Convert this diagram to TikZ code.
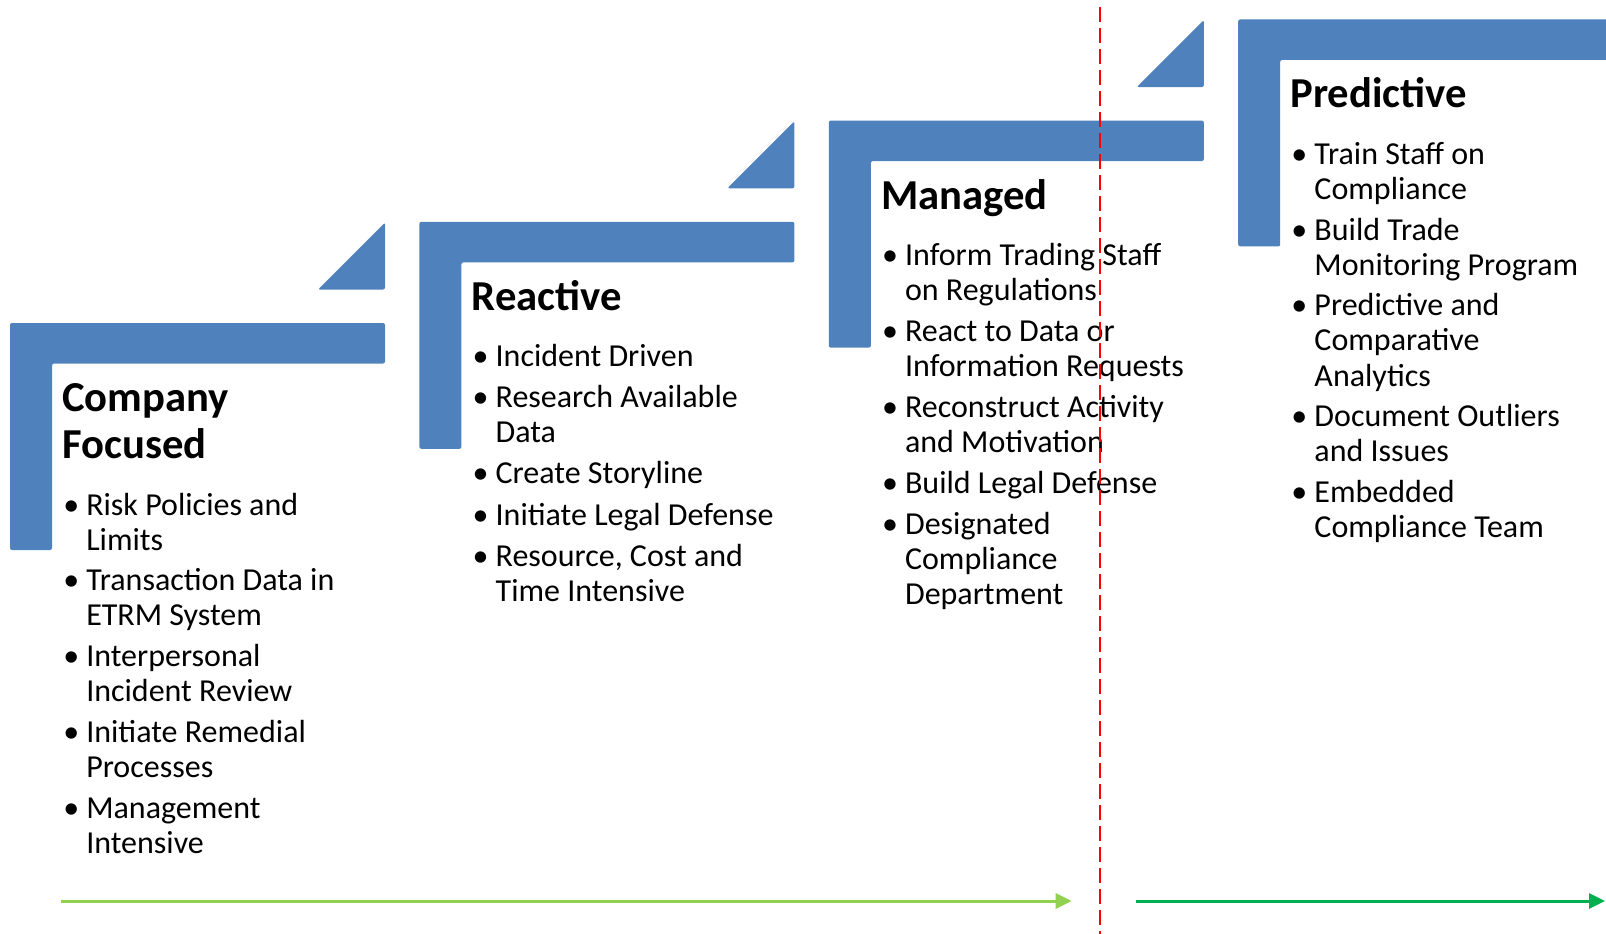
\documentclass[tikz,border=0pt]{standalone}
\usepackage{fontspec}
\setmainfont{Carlito}
\usetikzlibrary{arrows.meta}
\definecolor{stepblue}{HTML}{4F81BD}
\definecolor{lgreen}{HTML}{92D050}
\definecolor{dgreen}{HTML}{00B050}
\definecolor{dred}{HTML}{FF0000}
\tikzset{
  stepshape/.style={fill=stepblue,draw=none,rounded corners=1.5pt},
  ttl/.style={anchor=base west,inner sep=0pt,font=\fontsize{32}{35.5}\selectfont\bfseries},
  itm/.style={anchor=base west,inner sep=0pt,font=\fontsize{24}{26.3}\selectfont},
  bul/.style={anchor=base west,inner sep=0pt,font=\fontsize{24}{26.3}\selectfont},
  flow/.style={line width=2.25pt,-{Triangle[length=12pt,width=11.25pt]}},
  divider/.style={draw=dred,line width=1.5pt,dash pattern=on 11.25pt off 4.5pt}
}
\newcommand\lns[1]{\begin{tabular}[t]{@{}l@{}}#1\end{tabular}}
\newcommand\bitem[4]{%
  \node[bul] (#1b) at (#2-23,#3+1.5) {\textbullet};
  \node[itm] (#1) at (#2,#3+1.5) {\lns{#4}};
}
\newcommand\stepL[3]{% name, left, top
  \fill[stepshape] (#2,#3) -- (#2+375,#3) -- (#2+375,#3+40.5) -- (#2+42,#3+40.5)
     -- (#2+42,#3+227) -- (#2,#3+227) -- cycle;
}
\newcommand\stepT[2]{% right, bar top
  \fill[stepshape] (#1,#2-100.5) -- (#1,#2-33.5) -- (#1-67,#2-33.5) -- cycle;
}
\begin{document}
\begin{tikzpicture}[x=0.75pt,y=-0.75pt]
\clip (0,0) rectangle (1606,933);
\fill[white] (0,0) rectangle (1606,933);
% step shapes
\stepL{s1}{10}{323}
\stepL{s2}{419.4}{221.8}
\stepL{s3}{828.8}{120.6}
\stepL{s4}{1238.2}{19.4}
\stepT{385}{323}
\stepT{794.4}{221.8}
\stepT{1203.8}{120.6}
% titles
\node[ttl] (t1) at (62,411.5) {\lns{Company\\Focused}};
\node[ttl] (t2) at (471.4,310.3) {Reactive};
\node[ttl] (t3) at (880.8,209.1) {Managed};
\node[ttl] (t4) at (1290.2,107.9) {Predictive};
% column 1
\bitem{a1}{86}{513.5}{Risk Policies and\\Limits}
\bitem{a2}{86}{589.4}{Transaction Data in\\ETRM System}
\bitem{a3}{86}{665.3}{Interpersonal\\Incident Review}
\bitem{a4}{86}{741.2}{Initiate Remedial\\Processes}
\bitem{a5}{86}{817.1}{Management\\Intensive}
% column 2
\bitem{b1}{495.4}{365}{Incident Driven}
\bitem{b2}{495.4}{406.3}{Research Available\\Data}
\bitem{b3}{495.4}{482.2}{Create Storyline}
\bitem{b4}{495.4}{523.5}{Initiate Legal Defense}
\bitem{b5}{495.4}{564.8}{Resource, Cost and\\Time Intensive}
% column 3
\bitem{c1}{904.8}{263.8}{Inform Trading Staff\\on Regulations}
\bitem{c2}{904.8}{339.7}{React to Data or\\Information Requests}
\bitem{c3}{904.8}{415.6}{Reconstruct Activity\\and Motivation}
\bitem{c4}{904.8}{491.5}{Build Legal Defense}
\bitem{c5}{904.8}{532.8}{Designated\\Compliance\\Department}
% column 4
\bitem{d1}{1314.2}{162.6}{Train Staff on\\Compliance}
\bitem{d2}{1314.2}{238.5}{Build Trade\\Monitoring Program}
\bitem{d3}{1314.2}{314.4}{Predictive and\\Comparative\\Analytics}
\bitem{d4}{1314.2}{424.9}{Document Outliers\\and Issues}
\bitem{d5}{1314.2}{500.8}{Embedded\\Compliance Team}
% arrows
\coordinate (g1s) at (61,901);
\coordinate (g1e) at (1071.7,901);
\coordinate (g2s) at (1136,901);
\coordinate (g2e) at (1605,901);
\draw[flow,draw=lgreen,fill=lgreen] (g1s) -- (g1e);
\draw[flow,draw=dgreen,fill=dgreen] (g2s) -- (g2e);
% divider
\coordinate (dtop) at (1100.3,7);
\coordinate (dbot) at (1100.3,940);
\draw[divider] (dtop) -- (dbot);
\end{tikzpicture}
\end{document}
